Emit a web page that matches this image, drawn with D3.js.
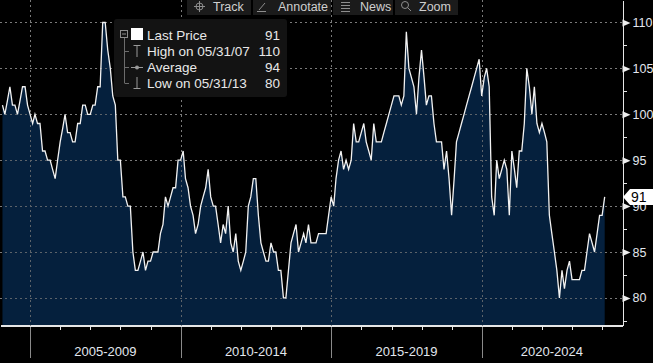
<!DOCTYPE html>
<meta charset="utf-8">
<style>

body {
  margin: 0;
  background: #000;
}

svg {
  display: block;
  background: #000;
}

text {
  font-family: "Liberation Sans", Arial, sans-serif;
}

.grid line {
  stroke: #7a7a7a;
  stroke-dasharray: 2,3;
  shape-rendering: crispEdges;
}

.area {
  fill: #05203d;
}

.line {
  fill: none;
  stroke: #f2f2f2;
  stroke-width: 1.3px;
}

.axis .domain {
  stroke: #e6e6e6;
  shape-rendering: crispEdges;
}

.axis line {
  stroke: #e6e6e6;
  shape-rendering: crispEdges;
}

.axis text {
  fill: #e2e7ee;
}

.legend text {
  fill: #e8e8e8;
  font-size: 13.5px;
}

.tools text {
  fill: #cfcfcf;
  font-size: 12.5px;
}

</style>
<svg width="653" height="363"></svg>
<script src="https://d3js.org/d3.v7.min.js"></script>
<script>

// monthly closes, end of month, Jan 2004 .. Jan 2024
var values = [
  101, 100, 101.5, 103, 101, 101, 100, 101.5, 103, 103, 101, 100,   // 2004
  99, 100, 99, 99, 96, 96, 95, 95, 94, 93, 95, 97,                  // 2005
  98.5, 100, 98, 98, 97, 97, 99, 99, 101, 101, 100, 100,            // 2006
  101, 101, 103, 103, 110, 110, 107, 105, 102, 101, 95, 95,         // 2007
  91, 91, 90, 90, 85, 83, 83, 84, 85, 83, 84, 84,                   // 2008
  85, 85, 85, 87, 88, 91, 90, 91, 92, 92, 95, 95,                   // 2009
  96, 93, 92, 90, 89, 87, 88, 90, 91, 92, 94, 91,                   // 2010
  90, 90, 88, 86, 88, 87, 90, 86, 85, 87, 84, 83,                   // 2011
  84, 85, 90, 91, 93, 93, 89, 86, 85, 84, 84, 86,                   // 2012
  85, 85, 83, 83, 80, 80, 83, 86, 87, 88, 85, 86,                   // 2013
  87, 86, 88, 86, 86, 86, 87, 87, 87, 87, 89, 91,                   // 2014
  90, 93, 95, 96, 94, 95, 94, 95, 99, 97, 97, 98,                   // 2015
  99, 97, 96, 95, 99, 97, 97, 97, 98, 99, 100, 101,                 // 2016
  102, 102, 102, 101, 102, 109, 105, 104, 103, 100, 104, 107,       // 2017
  104, 101, 102, 102, 99, 97, 97, 97, 94, 96, 93, 89,               // 2018
  93, 97, 98, 99, 100, 101, 102, 103, 104, 105, 106, 102,           // 2019
  104, 105, 103, 91, 89, 95, 93, 94, 95, 94, 89, 96,                // 2020
  94, 92, 96, 96, 99, 105, 103, 100, 103, 99, 98, 99,               // 2021
  98, 97, 89, 87, 85, 83, 80, 83, 81, 83, 84, 82,                   // 2022
  82, 82, 82, 83, 83, 85, 87, 86, 85, 87, 89, 89,                   // 2023
  91                                                                // 2024
];
var firstYear = 2004;

var periodLabels = ["2005-2009", "2010-2014", "2015-2019", "2020-2024"];
var periodStarts = [2005, 2010, 2015, 2020];
var yearTicks = d3.range(2005, 2025);
var yTicks = [80, 85, 90, 95, 100, 105, 110];
var yMinorTicks = [77.5, 82.5, 87.5, 92.5, 97.5, 102.5, 107.5];

var legendLabels = ["Last Price", "High on 05/31/07", "Average", "Low on 05/31/13"];
var legendValues = [91, 110, 94, 80];
var lastPrice = 91;

var toolNames = ["Track", "Annotate", "News", "Zoom"];

var data = values.map(function(v, i) {
  return {date: new Date(firstYear, i + 1, 0), value: v};
});

var svg = d3.select("svg");

var plotRight = 622,
    plotBottom = 325;

var x = d3.scaleTime()
    .domain([new Date(2004, 0, 1), new Date(2024, 7, 28)])
    .range([0, plotRight]);

var y = d3.scaleLinear()
    .domain([77.05, 112.45])
    .range([plotBottom, 0]);

// grid
var grid = svg.append("g").attr("class", "grid");

grid.selectAll(".h")
    .data(yTicks)
  .enter().append("line")
    .attr("x1", 0)
    .attr("x2", plotRight)
    .attr("y1", function(d) { return Math.round(y(d)) + 0.5; })
    .attr("y2", function(d) { return Math.round(y(d)) + 0.5; });

grid.selectAll(".v")
    .data(periodStarts)
  .enter().append("line")
    .attr("x1", function(d) { return Math.round(x(new Date(d, 0, 1))) + 0.5; })
    .attr("x2", function(d) { return Math.round(x(new Date(d, 0, 1))) + 0.5; })
    .attr("y1", 0)
    .attr("y2", plotBottom);

// area + line
svg.append("path")
    .datum(data)
    .attr("class", "area")
    .attr("d", d3.area()
        .x(function(d) { return x(d.date); })
        .y0(plotBottom)
        .y1(function(d) { return y(d.value); }));

// redraw grid over the fill, a bit bluer
var grid2 = svg.append("g").attr("class", "grid").style("opacity", 0.75);
grid2.selectAll("line")
    .data(yTicks)
  .enter().append("line")
    .attr("x1", 0)
    .attr("x2", x(data[data.length - 1].date))
    .attr("y1", function(d) { return Math.round(y(d)) + 0.5; })
    .attr("y2", function(d) { return Math.round(y(d)) + 0.5; });
grid2.selectAll(".v")
    .data(periodStarts)
  .enter().append("line")
    .attr("x1", function(d) { return Math.round(x(new Date(d, 0, 1))) + 0.5; })
    .attr("x2", function(d) { return Math.round(x(new Date(d, 0, 1))) + 0.5; })
    .attr("y1", 0)
    .attr("y2", plotBottom);

svg.append("path")
    .datum(data)
    .attr("class", "line")
    .attr("d", d3.line()
        .x(function(d) { return x(d.date); })
        .y(function(d) { return y(d.value); }));

// bottom axis: long grey period lines
var xMajor = svg.append("g")
    .attr("class", "axis")
    .attr("transform", "translate(0," + plotBottom + ")")
    .call(d3.axisBottom(x)
        .tickValues(periodStarts.map(function(d) { return new Date(d, 0, 1); }))
        .tickSize(33)
        .tickSizeOuter(0)
        .tickFormat(""));
xMajor.selectAll(".tick line").style("stroke", "#8a8a8a");

// year ticks
var xMinor = svg.append("g")
    .attr("class", "axis")
    .attr("transform", "translate(0," + (plotBottom + 0.5) + ")")
    .call(d3.axisBottom(x)
        .tickValues(yearTicks.filter(function(d) { return d % 5 !== 0; }).map(function(d) { return new Date(d, 0, 1); }))
        .tickSize(4)
        .tickSizeOuter(0)
        .tickFormat(""));

// period labels
svg.append("g").selectAll("text")
    .data(periodLabels)
  .enter().append("text")
    .attr("x", function(d, i) {
      var a = x(new Date(periodStarts[i], 0, 1));
      var b = Math.min(x(new Date(periodStarts[i] + 5, 0, 1)), plotRight);
      return (a + b) / 2;
    })
    .attr("y", 356)
    .attr("text-anchor", "middle")
    .style("font-size", "13px")
    .style("fill", "#e2e7ee")
    .text(function(d) { return d; });

// right axis
var yAxis = svg.append("g")
    .attr("class", "axis")
    .attr("transform", "translate(" + (plotRight + 0.5) + ",0)")
    .call(d3.axisRight(y)
        .tickValues(yTicks)
        .tickSize(0)
        .tickSizeOuter(0)
        .tickPadding(10));
yAxis.selectAll(".tick text")
    .style("font-size", "12.5px")
    .attr("font-family", null);
yAxis.selectAll(".tick").append("path")
    .attr("d", "M0,-3.5L8,0L0,3.5Z")
    .style("fill", "#eeeeee");

svg.append("g")
    .attr("class", "axis")
    .attr("transform", "translate(" + (plotRight + 0.5) + ",0)")
    .call(d3.axisRight(y)
        .tickValues(yMinorTicks)
        .tickSize(4)
        .tickSizeOuter(0)
        .tickFormat(""))
    .select(".domain").remove();

// last price tag
var tagY = y(lastPrice);
var tag = svg.append("g").attr("transform", "translate(0," + tagY + ")");
tag.append("path")
    .attr("d", "M623,0L630,-8L653,-8L653,8L630,8Z")
    .style("fill", "#ffffff");
tag.append("text")
    .attr("x", 631)
    .attr("dy", "0.36em")
    .style("font-size", "14px")
    .style("fill", "#000")
    .text(lastPrice);

// legend box
var legend = svg.append("g").attr("class", "legend");
legend.append("rect")
    .attr("x", 114)
    .attr("y", 19)
    .attr("width", 173)
    .attr("height", 78)
    .attr("rx", 3)
    .style("fill", "#131313");

var rowY = function(i) { return 35 + i * 16; };

legend.append("rect")
    .attr("x", 120.5).attr("y", 30.5)
    .attr("width", 7).attr("height", 7)
    .style("fill", "none").style("stroke", "#8c8c8c");
legend.append("line")
    .attr("x1", 122).attr("x2", 126).attr("y1", 34).attr("y2", 34)
    .style("stroke", "#8c8c8c");
legend.append("line")
    .attr("x1", 124.5).attr("x2", 124.5).attr("y1", 38).attr("y2", rowY(3))
    .style("stroke", "#6c6c6c");
legend.selectAll(".branch")
    .data([1, 2, 3])
  .enter().append("line")
    .attr("x1", 124.5).attr("x2", 129)
    .attr("y1", function(d) { return rowY(d) + 0.5; })
    .attr("y2", function(d) { return rowY(d) + 0.5; })
    .style("stroke", "#6c6c6c");

legend.append("rect")
    .attr("x", 131).attr("y", 28)
    .attr("width", 12).attr("height", 12)
    .style("fill", "#ffffff");

var iconStroke = "#9a9a9a";
legend.append("path")
    .attr("d", "M133.5," + (rowY(1) - 5.5) + "H140.5M137," + (rowY(1) - 5.5) + "V" + (rowY(1) + 6))
    .style("stroke", iconStroke).style("fill", "none");
legend.append("path")
    .attr("d", "M131," + (rowY(2) + 0.5) + "H143")
    .style("stroke", iconStroke);
legend.append("circle")
    .attr("cx", 137).attr("cy", rowY(2) + 0.5).attr("r", 2)
    .style("fill", iconStroke);
legend.append("path")
    .attr("d", "M137," + (rowY(3) - 6) + "V" + (rowY(3) + 5.5) + "M133.5," + (rowY(3) + 5.5) + "H140.5")
    .style("stroke", iconStroke).style("fill", "none");

legend.selectAll(".lbl")
    .data(legendLabels)
  .enter().append("text")
    .attr("x", 147)
    .attr("y", function(d, i) { return rowY(i); })
    .attr("dy", "0.36em")
    .text(function(d) { return d; });

legend.selectAll(".val")
    .data(legendValues)
  .enter().append("text")
    .attr("x", 280)
    .attr("y", function(d, i) { return rowY(i); })
    .attr("dy", "0.36em")
    .attr("text-anchor", "end")
    .text(function(d) { return d; });

// toolbar
var tools = svg.append("g").attr("class", "tools");
var btnX = [187, 253, 333, 395],
    btnW = [64, 78, 60, 63];
tools.selectAll("rect")
    .data(toolNames)
  .enter().append("rect")
    .attr("x", function(d, i) { return btnX[i]; })
    .attr("y", 0)
    .attr("width", function(d, i) { return btnW[i]; })
    .attr("height", 15)
    .style("fill", "#1b1b1b");
tools.selectAll("text")
    .data(toolNames)
  .enter().append("text")
    .attr("x", function(d, i) { return btnX[i] + [26, 25, 27, 24][i]; })
    .attr("y", 11)
    .text(function(d) { return d; });

var ic = tools.append("g").style("stroke", "#8e8e8e").style("fill", "none");
// track
ic.append("circle").attr("cx", 199.5).attr("cy", 6.5).attr("r", 3.5);
ic.append("path").attr("d", "M199.5,1V12M194,6.5H205");
// annotate
ic.append("path").attr("d", "M259,10L265,3M257,11.5H266");
// news
ic.append("path").attr("d", "M341,2.5H350M341,5.5H350M341,8.5H350M341,11.5H350");
// zoom
ic.append("circle").attr("cx", 405).attr("cy", 5).attr("r", 3.5);
ic.append("path").attr("d", "M407.5,7.5L411,11");

</script>
